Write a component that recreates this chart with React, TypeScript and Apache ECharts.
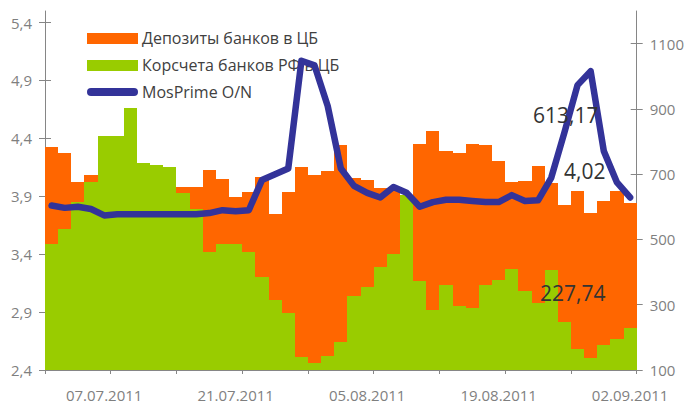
import React, { useEffect, useRef } from "react";
import * as echarts from "echarts";

const dates = [
  "01.07.2011", "04.07.2011", "05.07.2011", "06.07.2011", "07.07.2011",
  "08.07.2011", "11.07.2011", "12.07.2011", "13.07.2011", "14.07.2011",
  "15.07.2011", "18.07.2011", "19.07.2011", "20.07.2011", "21.07.2011",
  "25.07.2011", "26.07.2011", "27.07.2011", "28.07.2011", "29.07.2011",
  "01.08.2011", "02.08.2011", "03.08.2011", "04.08.2011", "05.08.2011",
  "08.08.2011", "09.08.2011", "10.08.2011", "11.08.2011", "12.08.2011",
  "15.08.2011", "16.08.2011", "17.08.2011", "18.08.2011", "19.08.2011",
  "22.08.2011", "23.08.2011", "24.08.2011", "25.08.2011", "26.08.2011",
  "29.08.2011", "30.08.2011", "31.08.2011", "01.09.2011", "02.09.2011",
];

const deposits = [
  782, 765, 676, 696, 640, 655, 670, 660, 650, 668,
  660, 660, 712, 684, 629, 644, 692, 577, 644, 721,
  699, 709, 788, 687, 683, 657, 657, 615, 794, 831,
  770, 765, 794, 788, 739, 675, 678, 724, 672, 605,
  650, 580, 617, 647, 613.17,
];

const corrAccounts = [
  485, 531, 615, 676, 817, 817, 902, 734, 727, 721,
  641, 592, 462, 485, 485, 461, 384, 314, 274, 140,
  121, 143, 186, 326, 354, 415, 455, 635, 372, 283,
  360, 296, 290, 360, 375, 409, 342, 306, 406, 247,
  164, 138, 176, 195, 227.74,
];

const mosPrime = [
  3.82, 3.8, 3.81, 3.79, 3.735, 3.745, 3.745, 3.745, 3.745, 3.745,
  3.745, 3.745, 3.755, 3.78, 3.77, 3.78, 4.04, 4.09, 4.14, 5.07,
  5.03, 4.68, 4.14, 3.99, 3.93, 3.89, 3.98, 3.93, 3.81, 3.85,
  3.87, 3.87, 3.86, 3.85, 3.85, 3.91, 3.86, 3.865, 4.06, 4.45,
  4.86, 4.98, 4.29, 4.02, 3.89,
];

const leftTicks = [2.4, 2.9, 3.4, 3.9, 4.4, 4.9, 5.4];
const rightTicks = [100, 300, 500, 700, 900, 1100];

const annotations = [
  { text: "613,17", x: 533, y: 115 },
  { text: "4,02", x: 564, y: 171 },
  { text: "227,74", x: 540, y: 293 },
];

const S_DEP = "Депозиты банков в ЦБ";
const S_COR = "Корсчета банков РФ в ЦБ";
const S_MP = "MosPrime O/N";

const FONT = "Open Sans";
const AXIS_COLOR = "#868686";
const LABEL_COLOR = "#7f7f7f";
const ORANGE = "#FF6600";
const GREEN = "#99CC00";
const BLUE = "#333399";

const css = `
.chartbox svg path { shape-rendering: crispEdges; }
.chartbox svg path[fill="none"], .chartbox svg path[fill="${BLUE}"], .chartbox svg path[fill="#333399"] { shape-rendering: auto; }
`;

export default function App() {
  const ref = useRef<HTMLDivElement>(null);
  useEffect(() => {
    if (!ref.current) return;
    const chart = echarts.init(ref.current, undefined, { renderer: "svg" });
    const yBase = (pos: "left" | "right", min: number, max: number, ticks: number[], fmt: (v: number) => string) => ({
      type: "value",
      position: pos,
      min,
      max,
      splitLine: { show: false },
      axisLine: { show: true, lineStyle: { color: AXIS_COLOR, width: 1 } },
      axisTick: { show: true, inside: false, length: 6, customValues: ticks, lineStyle: { color: AXIS_COLOR } },
      axisLabel: {
        show: true,
        customValues: ticks,
        formatter: fmt,
        color: LABEL_COLOR,
        fontSize: 15,
        fontFamily: FONT,
        margin: 13,
      },
    });
    const yDup = (pos: "left" | "right", min: number, max: number, ticks: number[]) => ({
      type: "value",
      position: pos,
      min,
      max,
      splitLine: { show: false },
      axisLine: { show: false },
      axisTick: { show: true, inside: true, length: 6, customValues: ticks, lineStyle: { color: AXIS_COLOR } },
      axisLabel: { show: false },
    });
    chart.setOption({
      animation: false,
      textStyle: { fontFamily: FONT },
      grid: { left: 45, right: 50.3, top: 11, bottom: 36, containLabel: false },
      legend: {
        orient: "vertical",
        left: 82,
        top: 25,
        itemWidth: 51,
        itemHeight: 11,
        itemGap: 11,
        textStyle: { fontSize: 16, color: "#404040", fontFamily: FONT, padding: [0, 0, 0, -1] },
        data: [
          { name: S_DEP, icon: "rect", itemStyle: { borderWidth: 0 } },
          { name: S_COR, icon: "rect", itemStyle: { borderWidth: 0 } },
          {
            name: S_MP,
            icon: "path://M4,0 L47,0 A4,4 0 0 1 47,8 L4,8 A4,4 0 0 1 4,0 Z",
          },
        ],
      },
      xAxis: {
        type: "category",
        data: dates,
        boundaryGap: true,
        axisLine: { show: true, lineStyle: { color: AXIS_COLOR, width: 1 } },
        axisTick: { show: true, length: 4, interval: (i: number) => i % 5 === 0, lineStyle: { color: AXIS_COLOR } },
        axisLabel: {
          interval: (i: number) => i % 10 === 4,
          color: LABEL_COLOR,
          fontSize: 15,
          fontFamily: FONT,
          margin: 17,
        },
      },
      yAxis: [
        yBase("left", 2.4, 5.5, leftTicks, (v: number) => v.toFixed(1).replace(".", ",")),
        yBase("right", 100, 1200, rightTicks, (v: number) => String(v)),
        yDup("left", 2.4, 5.5, leftTicks),
        yDup("right", 100, 1200, rightTicks),
      ],
      series: [
        {
          name: S_DEP,
          type: "bar",
          yAxisIndex: 1,
          data: deposits,
          barWidth: "100%",
          barGap: "-100%",
          barCategoryGap: "0%",
          itemStyle: { color: ORANGE },
        },
        {
          name: S_COR,
          type: "bar",
          yAxisIndex: 1,
          data: corrAccounts,
          barWidth: "100%",
          barGap: "-100%",
          barCategoryGap: "0%",
          itemStyle: { color: GREEN },
        },
        {
          name: S_MP,
          type: "line",
          yAxisIndex: 0,
          data: mosPrime,
          symbol: "none",
          color: BLUE,
          lineStyle: { color: BLUE, width: 6.5, cap: "round", join: "round" },
          z: 5,
        },
      ],
      graphic: annotations.map((a) => ({
        type: "text",
        x: a.x,
        y: a.y,
        z: 100,
        style: {
          text: a.text,
          fontSize: 21,
          fontFamily: FONT,
          fill: "#333333",
          verticalAlign: "middle",
        },
      })),
    });
    return () => chart.dispose();
  }, []);
  return (
    <>
      <style>{css}</style>
      <div
        ref={ref}
        className="chartbox"
        style={{ position: "absolute", left: 0, top: 0, width: 687, height: 406 }}
      />
    </>
  );
}
